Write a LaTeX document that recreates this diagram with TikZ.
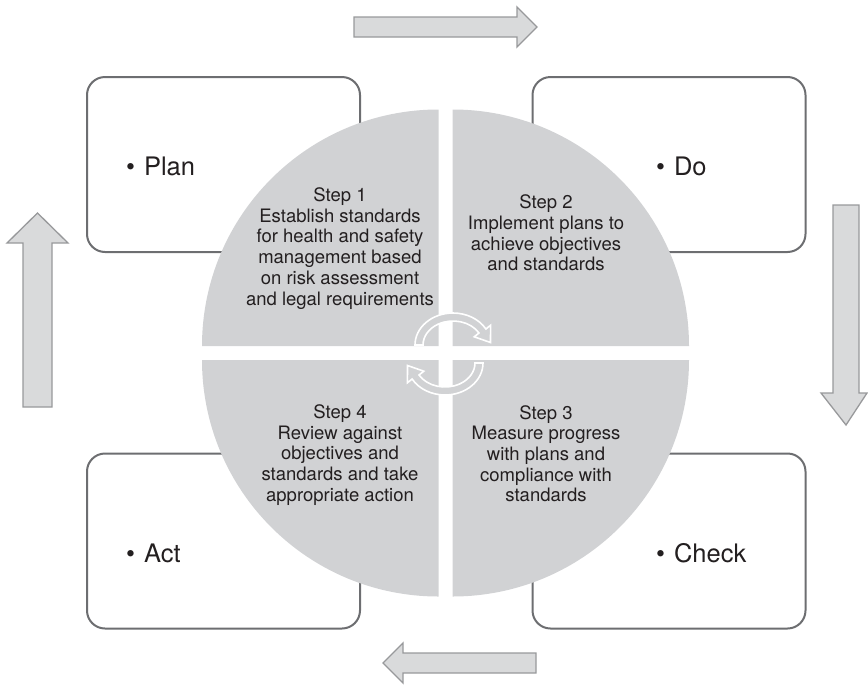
\documentclass[tikz,border=0pt]{standalone}
\usepackage{fontspec}
\setmainfont{TeX Gyre Heros}
\definecolor{ink}{HTML}{231F20}
\definecolor{boxline}{HTML}{6D6E71}
\definecolor{quadfill}{HTML}{D1D2D4}
\definecolor{arrowfill}{HTML}{D9DADB}
\definecolor{arrowline}{HTML}{98999B}
\begin{document}
\begin{tikzpicture}[x=1pt,y=-1pt,
  card/.style={draw=boxline, line width=2pt, rounded corners=18pt, fill=white,
    inner sep=0pt, minimum width=273pt, minimum height=175pt},
  quad/.style={fill=quadfill},
  steptext/.style={align=center, inner sep=0pt, anchor=north, text=ink,
    font=\fontsize{18.5}{20.7}\selectfont},
  tag/.style={anchor=base west, inner sep=0pt, text=ink,
    font=\fontsize{25.5}{28}\selectfont},
  flow/.style={fill=arrowfill, draw=arrowline, line width=1.3pt, line join=miter},
  cyc/.style={fill=quadfill, draw=white, line width=1.6pt, line join=miter}]

% page frame
\useasboundingbox (0,0) rectangle (868,686);

% the four PDCA cards
\node[card] (plan)  at (223.5,164.5) {};
\node[card] (do)    at (669,164.5) {};
\node[card] (act)   at (223.5,541) {};
\node[card] (check) at (669,541) {};

% flow arrows around the cycle
\fill[flow] (354,17) -- (517,17) -- (517,7) -- (537,27) -- (517,47) -- (517,37) -- (354,37) -- cycle;
\fill[flow] (833,205) -- (859,205) -- (859,393) -- (867,393) -- (846,425) -- (821,393) -- (833,393) -- cycle;
\fill[flow] (536,653) -- (536,673) -- (403,673) -- (403,683) -- (383,663) -- (403,643) -- (403,653) -- cycle;
\fill[flow] (23,407) -- (23,243) -- (7,243) -- (37.5,213) -- (68,243) -- (52,243) -- (52,407) -- cycle;

% the four quarter discs
\fill[quad] (438.5,346) -- (202,346) arc[start angle=180, end angle=270, radius=236.5] -- cycle;
\fill[quad] (452.5,346) -- (452.5,109.5) arc[start angle=270, end angle=360, radius=236.5] -- cycle;
\fill[quad] (452.5,360) -- (689,360) arc[start angle=0, end angle=90, radius=236.5] -- cycle;
\fill[quad] (438.5,360) -- (438.5,596.5) arc[start angle=90, end angle=180, radius=236.5] -- cycle;

% labels of the cards
\node[tag] (plantag)  at (126,175) {\textbullet\hspace{0.35em}Plan};
\node[tag] (dotag)    at (656,175) {\textbullet\hspace{0.35em}Do};
\node[tag] (acttag)   at (126,562) {\textbullet\hspace{0.35em}Act};
\node[tag] (checktag) at (656,562) {\textbullet\hspace{0.35em}Check};

% step descriptions
\node[steptext] (step1) at (340,187.5) {Step 1\\Establish standards\\for health and safety\\management based\\on risk assessment\\and legal requirements};
\node[steptext] (step2) at (546,194.8) {Step 2\\Implement plans to\\achieve objectives\\and standards};
\node[steptext] (step3) at (546,405) {Step 3\\Measure progress\\with plans and\\compliance with\\standards};
\node[steptext] (step4) at (340,404.5) {Step 4\\Review against\\objectives and\\standards and take\\appropriate action};

% circular arrows in the middle
\filldraw[cyc] (415,345) arc[start angle=180, end angle=330, x radius=38, y radius=32]
  -- (490.6,325.2) -- (490.5,342.5) -- (474.2,336.8) -- (479,333)
  arc[start angle=330, end angle=180, x radius=30, y radius=24] -- cycle;
\filldraw[cyc] (483,363) arc[start angle=0, end angle=150, x radius=38, y radius=32]
  -- (407.4,382.8) -- (407.5,365.5) -- (423.8,371.2) -- (419,375)
  arc[start angle=150, end angle=0, x radius=30, y radius=24] -- cycle;
\end{tikzpicture}
\end{document}
